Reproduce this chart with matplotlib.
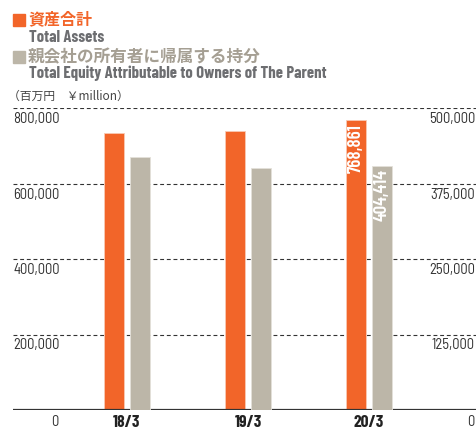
import matplotlib
matplotlib.use('Agg')
import matplotlib.pyplot as plt
import matplotlib.transforms as mtransforms
from matplotlib import font_manager

# データ（百万円）
years = ['18/3', '19/3', '20/3']
total_assets = [733000, 740000, 768861]
equity_parent = [419000, 401000, 404414]
left_ticks = [200000, 400000, 600000, 800000]
right_ticks = [125000, 250000, 375000, 500000]

ORANGE = '#F26529'
GREY_BAR = '#BCB6A8'
GREY_TXT = '#6D6E71'
GREY_JP = '#A59F93'

names = {f.name for f in font_manager.fontManager.ttflist}


def pick(*cands):
    for c in cands:
        if c in names:
            return c
    return 'DejaVu Sans'


COND = pick('Barlow Condensed', 'Roboto Condensed', 'Liberation Sans Narrow')
SEMI = pick('Barlow Semi Condensed', 'Roboto Condensed', 'Liberation Sans Narrow')
JP = ['Noto Sans CJK JP', 'DejaVu Sans']

W, H = 476, 430
fig = plt.figure(figsize=(W / 100, H / 100), dpi=100)


def px(x, y):
    return x / W, 1 - y / H


# plot area: x 13..476, y 108..410
ax = fig.add_axes([13 / W, (H - 410) / H, (W - 13) / W, 302 / H])
ax2 = ax.twinx()

x = list(range(len(years)))
bw = 20 / 121
off = 13 / 121
ax.bar([i - off for i in x], total_assets, width=bw, color=ORANGE,
       edgecolor='#F8C9B4', linewidth=0.6, zorder=3)
ax2.bar([i + off for i in x], equity_parent, width=bw, color=GREY_BAR,
        edgecolor='#E4E1DA', linewidth=0.6, zorder=3)

ax.set_xlim(-114 / 121, 349 / 121)
ax.set_ylim(0, 800000)
ax2.set_ylim(0, 500000)

for a in (ax, ax2):
    a.set_xticks([])
    a.set_yticks([])
    for s in a.spines.values():
        s.set_visible(False)
    a.patch.set_visible(False)

for v in left_ticks:
    ax.axhline(v, color='#333333', linestyle=(0, (3.5, 2.5)), linewidth=0.8, zorder=1)
ax.axhline(0, color='#333333', linewidth=1.6, zorder=4)

# 目盛ラベル
down = mtransforms.offset_copy(ax.get_yaxis_transform(), fig=fig, x=0, y=-4, units='dots')
down2 = mtransforms.offset_copy(ax2.get_yaxis_transform(), fig=fig, x=-1, y=-4, units='dots')
for v in left_ticks:
    ax.text(0, v, f'{v:,}', transform=down, ha='left', va='top',
            fontsize=10.5, family=SEMI, color='#333333')
for v in right_ticks:
    ax2.text(1, v, f'{v:,}', transform=down2, ha='right', va='top',
             fontsize=10.5, family=SEMI, color='#333333')

fig.text(*px(55, 422), '0', ha='center', va='center', fontsize=10.5, family=SEMI, color='#333333')
fig.text(*px(471, 422), '0', ha='center', va='center', fontsize=10.5, family=SEMI, color='#333333')

for i, y in enumerate(years):
    ax.annotate(y, (i, 0), xytext=(0, -5), textcoords='offset pixels', ha='center', va='top',
                fontsize=12.5, fontweight='bold', family=COND, color='#222222',
                annotation_clip=False)

# 20/3 の値
ax.annotate(f'{total_assets[-1]:,}', (2 - off, total_assets[-1]), xytext=(0, -4),
            textcoords='offset pixels', rotation=90, ha='center', va='top',
            fontsize=13.5, fontweight='semibold', family=COND, color='white', zorder=5)
ax2.annotate(f'{equity_parent[-1]:,}', (2 + off, equity_parent[-1]), xytext=(0, -3),
             textcoords='offset pixels', rotation=90, ha='center', va='top',
             fontsize=13.5, fontweight='semibold', family=COND, color='white', zorder=5)

# 凡例
fig.patches.append(plt.Rectangle(px(13, 26), 12 / W, 12 / H, transform=fig.transFigure,
                                 color=ORANGE, figure=fig))
fig.text(*px(28, 19), '資産合計', ha='left', va='center', fontsize=11.5,
         fontweight='bold', family=JP, color=ORANGE)
fig.text(*px(29, 37), 'Total Assets', ha='left', va='center', fontsize=12,
         fontweight='bold', family=COND, color=GREY_TXT)
fig.patches.append(plt.Rectangle(px(13, 63), 12 / W, 12 / H, transform=fig.transFigure,
                                 color=GREY_BAR, figure=fig))
fig.text(*px(28, 57), '親会社の所有者に帰属する持分', ha='left', va='center', fontsize=12,
         fontweight='bold', family=JP, color=GREY_JP)
fig.text(*px(29, 73), 'Total Equity Attributable to Owners of The Parent', ha='left',
         va='center', fontsize=12, fontweight='bold', family=COND, color=GREY_TXT)
fig.text(*px(8, 96), '（百万円　￥million）', ha='left', va='center', fontsize=8.5,
         family=JP, color='#444444')

fig.savefig('out.png', dpi=100)
